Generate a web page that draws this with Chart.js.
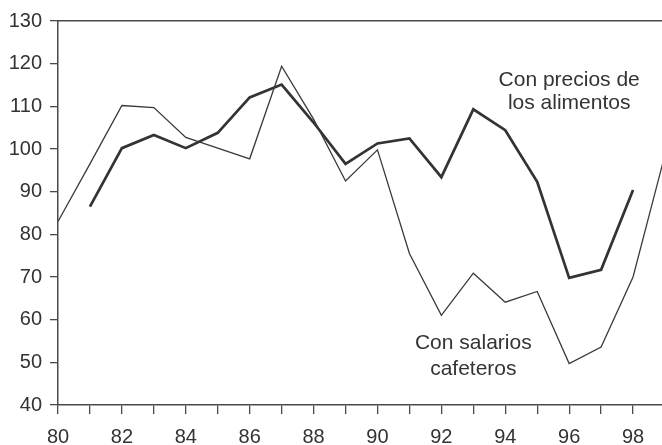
<!DOCTYPE html>
<html>
<head>
<meta charset="utf-8">
<script src="https://cdn.jsdelivr.net/npm/chart.js@4/dist/chart.umd.min.js"></script>
<style>
  html, body { margin: 0; padding: 0; background: #fff; overflow: hidden; }
  #wrap { width: 662px; height: 445px; overflow: hidden; }
</style>
</head>
<body>
<div id="wrap"><canvas id="grafica" width="676" height="445"></canvas></div>
<script>
// ── Datos (índices) ─────────────────────────────────────────────────────────
const ANOS_SALARIOS  = [80, 81, 82, 83, 84, 85, 86, 87, 88, 89, 90, 91, 92, 93, 94, 95, 96, 97, 98, 99];
const SALARIOS_CAFE  = [83, 96.5, 110.2, 109.7, 102.7, 100.2, 97.7, 119.4, 107, 92.5, 99.8, 75.5, 61.0, 70.9, 64.1, 66.6, 49.7, 53.6, 70.0, 98.7];

const ANOS_ALIMENTOS = [81, 82, 83, 84, 85, 86, 87, 88, 89, 90, 91, 92, 93, 94, 95, 96, 97, 98];
const PRECIOS_ALIM   = [86.5, 100.2, 103.3, 100.2, 103.8, 112.1, 115.1, 106.2, 96.5, 101.3, 102.5, 93.4, 109.3, 104.4, 92.3, 69.8, 71.7, 90.4];

const X_TICKS_PARES = [80, 82, 84, 86, 88, 90, 92, 94, 96, 98];

// Rótulos dentro del gráfico (en unidades de datos)
const NOTAS = [
  { texto: 'Con precios de', x: 96.0, y: 116.2 },
  { texto: 'los alimentos',  x: 96.0, y: 110.8 },
  { texto: 'Con salarios',   x: 93.0, y: 54.4 },
  { texto: 'cafeteros',      x: 93.0, y: 48.5 },
];

const INK  = '#333';
const AXIS = '#4a4a4a';
const FONT = "'Liberation Sans', Arial, sans-serif";

const toXY = (xs, ys) => xs.map((a, i) => ({ x: a, y: ys[i] }));

// ── Plugin: rótulos de las series ───────────────────────────────────────────
const notasPlugin = {
  id: 'notas',
  afterDatasetsDraw(chart) {
    const { ctx, scales: { x, y } } = chart;
    ctx.save();
    ctx.font = `21px ${FONT}`;
    ctx.fillStyle = INK;
    ctx.textAlign = 'center';
    ctx.textBaseline = 'middle';
    NOTAS.forEach(n => ctx.fillText(n.texto, x.getPixelForValue(n.x), y.getPixelForValue(n.y)));
    ctx.restore();
  }
};

new Chart(document.getElementById('grafica'), {
  type: 'line',
  data: {
    datasets: [
      {
        label: 'Con salarios cafeteros',
        data: toXY(ANOS_SALARIOS, SALARIOS_CAFE),
        borderColor: '#3a3a3a',
        borderWidth: 1.3,
        pointRadius: 0,
        tension: 0,
        fill: false,
      },
      {
        label: 'Con precios de los alimentos',
        data: toXY(ANOS_ALIMENTOS, PRECIOS_ALIM),
        borderColor: '#333',
        borderWidth: 2.7,
        pointRadius: 0,
        tension: 0,
        fill: false,
      },
    ]
  },
  options: {
    responsive: false,
    devicePixelRatio: 1,
    animation: false,
    layout: { padding: 0 },
    plugins: {
      legend:  { display: false },
      tooltip: { enabled: false },
    },
    scales: {
      x: {
        type: 'linear',
        position: 'bottom',
        min: 80, max: 99,
        afterFit: s => { s.height = 40; },
        border: { display: true, color: AXIS, width: 1.5 },
        grid: { display: true, drawOnChartArea: false, drawTicks: true, tickLength: 9, color: AXIS, lineWidth: 1.3 },
        ticks: {
          stepSize: 1,
          autoSkip: false,
          maxRotation: 0,
          padding: 11,
          color: INK,
          font: { family: FONT, size: 20 },
          callback: v => X_TICKS_PARES.includes(v) ? String(v) : '',
        },
      },
      xTop: {
        type: 'linear',
        position: 'top',
        min: 80, max: 99,
        afterFit: s => { s.height = 21; },
        border: { display: true, color: AXIS, width: 1.5 },
        grid: { display: false },
        ticks: { display: false },
      },
      y: {
        min: 40, max: 130,
        afterFit: s => { s.width = 58; },
        border: { display: true, color: AXIS, width: 1.5 },
        grid: { display: true, drawOnChartArea: false, drawTicks: true, tickLength: 8, color: AXIS, lineWidth: 1.3 },
        ticks: {
          stepSize: 10,
          padding: 8,
          color: INK,
          font: { family: FONT, size: 20 },
        },
      },
    }
  },
  plugins: [notasPlugin]
});
</script>
</body>
</html>
